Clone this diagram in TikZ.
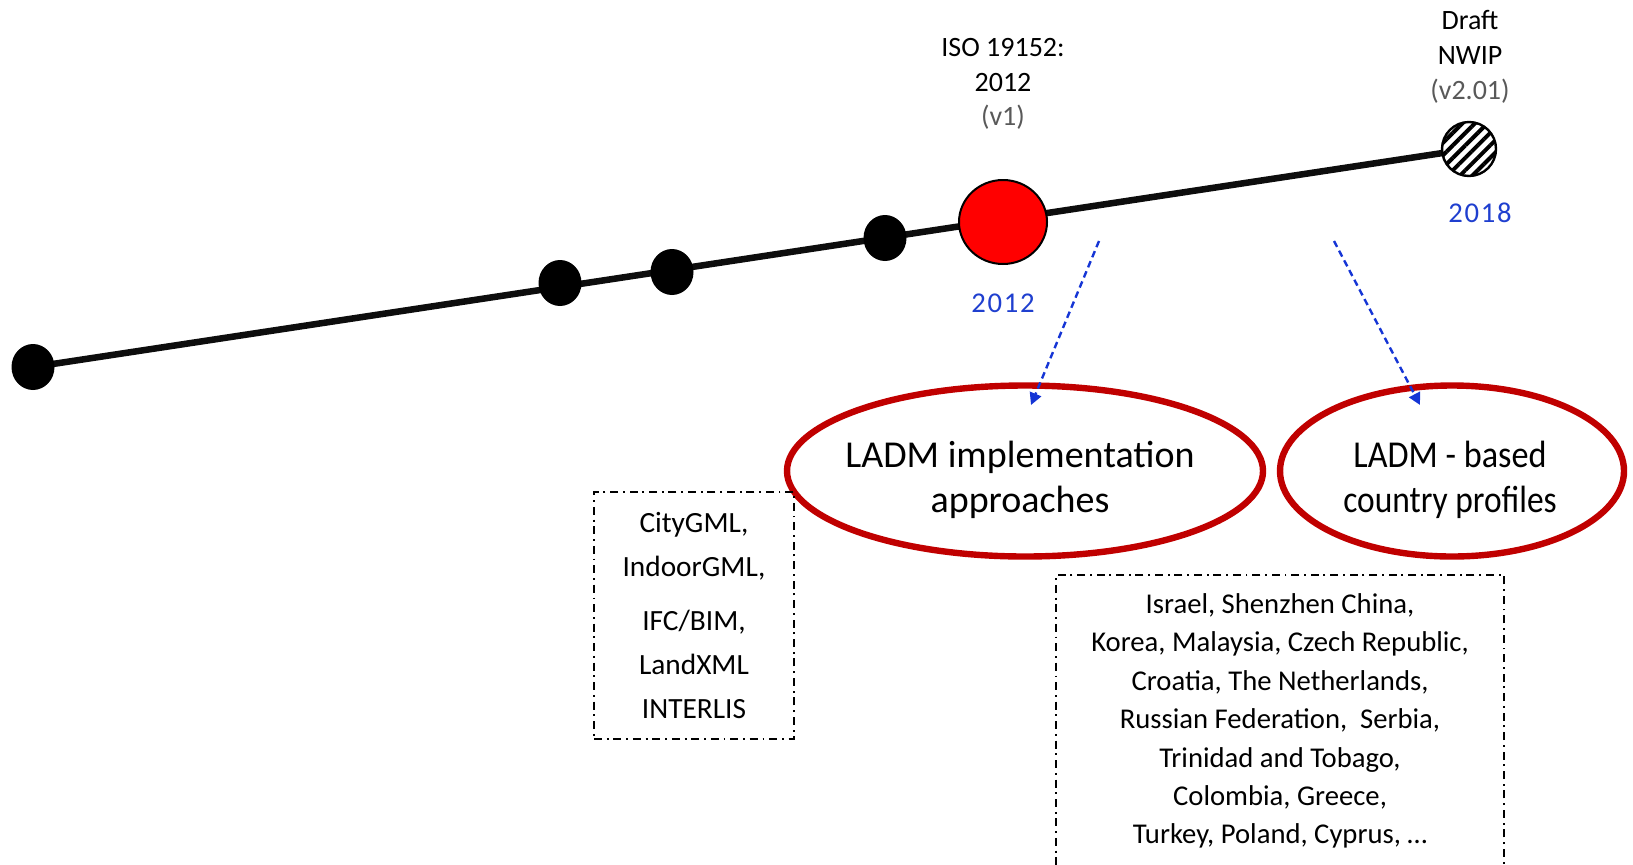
\documentclass[tikz,border=0pt]{standalone}
\usepackage{fontspec}
\setmainfont{Carlito}
\usetikzlibrary{shapes.geometric,arrows.meta,patterns.meta,backgrounds}
\definecolor{ladmred}{HTML}{C00000}
\definecolor{yearblue}{HTML}{1F3FCF}
\definecolor{arrowblue}{HTML}{1535D5}
\definecolor{vgrey}{HTML}{595959}
\tikzset{
  dot/.style={ellipse, fill=black, inner sep=0pt, minimum width=43*0.75pt, minimum height=46*0.75pt},
  timeline/.style={line width=4.9pt, black!95},
  milestone/.style={ellipse, draw=black, line width=1.5pt, fill=red, inner sep=0pt, minimum width=88*0.75pt, minimum height=84*0.75pt},
  draftdot/.style={circle, draw=black, line width=1.8pt, inner sep=0pt, minimum size=54*0.75pt,
    preaction={fill=white}, pattern={Lines[angle=45,distance=6.6pt,line width=3pt]}},
  toplabel/.style={align=center, inner sep=0pt, font=\fontsize{21pt}{26pt}\selectfont},
  year/.style={inner sep=0pt, text=yearblue, font=\fontsize{21.5pt}{26pt}\selectfont\addfontfeature{LetterSpace=6}},
  topic/.style={ellipse, draw=ladmred, line width=4.8pt, inner sep=0pt},
  topictext/.style={align=center, inner sep=0pt, font=\fontsize{28.5pt}{34pt}\selectfont},
  listbox/.style={draw=black, line width=1.9pt, dash pattern=on 6pt off 3.6pt on 1.4pt off 3.6pt, inner sep=0pt},
  flow/.style={draw=arrowblue, line width=1.8pt, dash pattern=on 5pt off 3.2pt, -{Triangle[length=9pt,width=9pt]}},
}
\begin{document}
\begin{tikzpicture}[x=0.75pt,y=-0.75pt]
\useasboundingbox (0,0) rectangle (1633,864);
\clip (0,0) rectangle (1633,864);

% timeline points
\node[dot] (d0) at (33,367) {};
\node[dot] (d1) at (560,283) {};
\node[dot] (d2) at (672,272) {};
\node[dot] (d3) at (885,238) {};
\node[milestone] (iso) at (1003,222) {};
\node[draftdot] (nw) at (1469,149) {};

\begin{scope}[on background layer]
  \draw[timeline] (d0.center) -- (nw.center);
\end{scope}

% labels
\node[toplabel] (isolbl) at (1003,84) {ISO 19152:\\2012\\\textcolor{vgrey}{(v1)}};
\node[toplabel] (nwlbl) at (1470,57) {Draft\\NWIP\\\textcolor{vgrey}{(v2.01)}};
\node[year] (y2012) at (1003,303) {2012};
\node[year] (y2018) at (1480,213) {2018};

% topic ellipses
\node[topic, minimum width=476*0.75pt, minimum height=171*0.75pt] (impl) at (1025,471) {};
\node[topictext] (impltxt) at (1020,480) {LADM implementation\\approaches};
\node[topic, minimum width=344*0.75pt, minimum height=171*0.75pt] (prof) at (1452,471) {};
\node[topictext] (proftxt) at (1450,480) {\addfontfeature{FakeStretch=0.9}LADM - based\\\addfontfeature{FakeStretch=0.88}country profiles};

% arrows
\coordinate (a1s) at (1099,241);
\coordinate (a1e) at (1031,405);
\coordinate (a2s) at (1334,241);
\coordinate (a2e) at (1420,405);
\draw[flow] (a1s) -- (a1e);
\draw[flow] (a2s) -- (a2e);

% list boxes
\node[listbox, minimum width=200*0.75pt, minimum height=247*0.75pt, align=center,
      font=\fontsize{22pt}{33pt}\selectfont] (std) at (694,615.5)
  {CityGML,\\IndoorGML,\\[7.5pt]IFC/BIM,\\LandXML\\INTERLIS};
\node[listbox, minimum width=448*0.75pt, minimum height=340*0.75pt] (cbox) at (1280,745) {};
\node[align=center, inner sep=0pt, font=\fontsize{21.5pt}{28.8pt}\selectfont] (clist) at (1280,721)
  {Israel, Shenzhen China,\\Korea, Malaysia, Czech Republic,\\Croatia, The Netherlands,\\Russian Federation,\ \ Serbia,\\Trinidad and Tobago,\\Colombia, Greece,\\Turkey, Poland, Cyprus, \ldots};
\end{tikzpicture}
\end{document}
